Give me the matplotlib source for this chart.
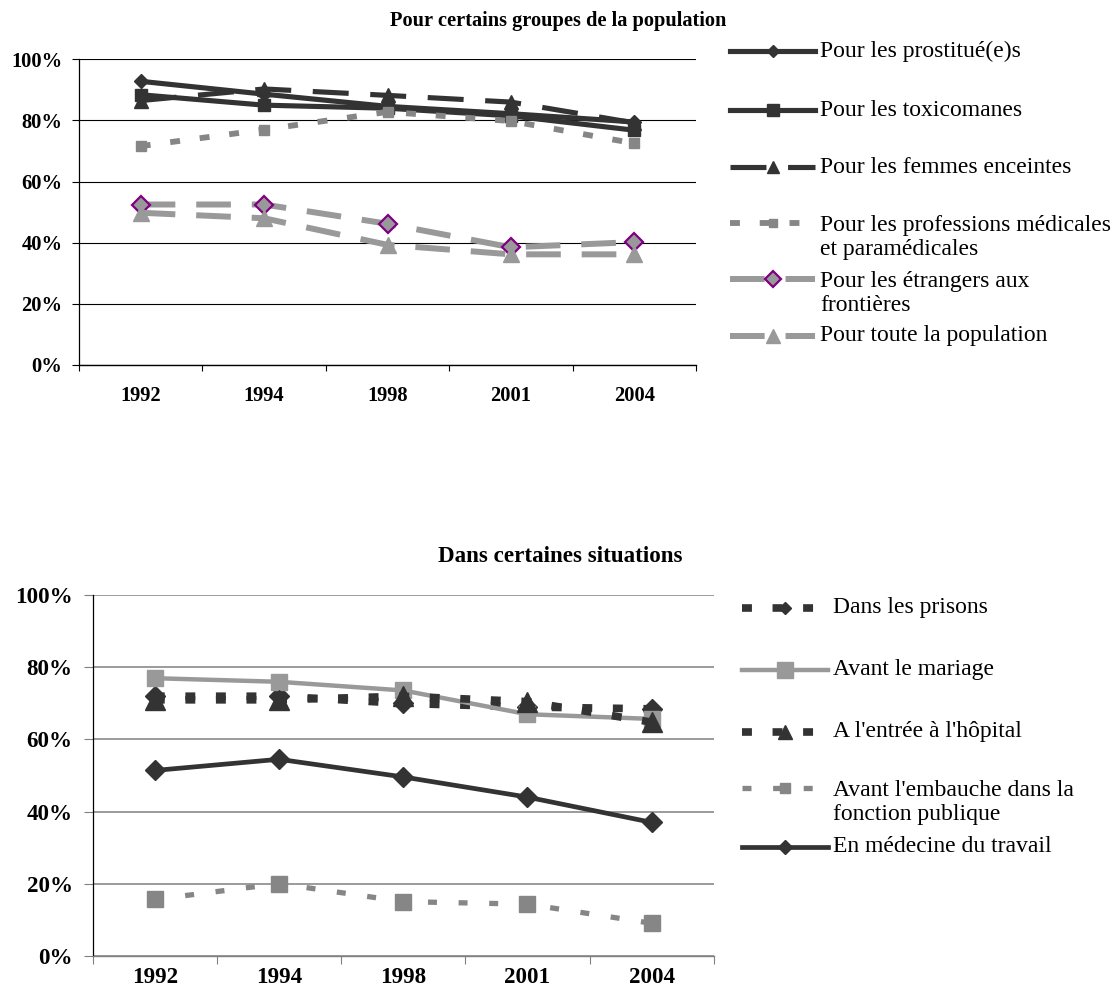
import matplotlib
matplotlib.use('Agg')
import matplotlib.pyplot as plt

plt.rcParams['font.family'] = ['Liberation Serif', 'DejaVu Serif']

annees = ['1992', '1994', '1998', '2001', '2004']

# Pour certains groupes de la population (%)
prostitues = [92.8, 88.6, 84.6, 82.2, 79.5]
toxicomanes = [88.4, 85.0, 84.0, 81.5, 76.8]
femmes_enceintes = [86.5, 90.3, 88.2, 86.0, 79.2]
professions_medicales = [71.6, 77.0, 82.8, 79.8, 72.5]
etrangers_frontieres = [52.5, 52.5, 46.2, 38.5, 40.2]
toute_population = [49.8, 48.0, 39.3, 36.2, 36.2]

# Dans certaines situations (%)
prisons = [72.0, 72.0, 70.0, 69.0, 68.5]
avant_mariage = [77.0, 76.0, 73.6, 67.0, 65.7]
entree_hopital = [71.0, 71.0, 72.0, 70.5, 64.8]
embauche_publique = [15.6, 20.0, 15.0, 14.3, 9.0]
medecine_travail = [51.4, 54.5, 49.6, 44.0, 37.0]

series_haut = [prostitues, toxicomanes, femmes_enceintes,
               professions_medicales, etrangers_frontieres, toute_population]
noms_haut = ['Pour les prostitué(e)s', 'Pour les toxicomanes',
             'Pour les femmes enceintes',
             'Pour les professions médicales\net paramédicales',
             'Pour les étrangers aux\nfrontières', 'Pour toute la population']
series_bas = [prisons, avant_mariage, entree_hopital, embauche_publique,
              medecine_travail]
noms_bas = ['Dans les prisons', 'Avant le mariage', "A l'entrée à l'hôpital",
            "Avant l'embauche dans la\nfonction publique",
            'En médecine du travail']

FONCE = '#333333'
GRIS = '#999999'
MOYEN = '#868686'
VIOLET = '#800080'

styles_haut = [
    dict(color=FONCE, lw=3.7, ls='-', marker='D', ms=7, mec=FONCE, mew=1),
    dict(color=FONCE, lw=3.7, ls='-', marker='s', ms=8, mec=FONCE, mew=1),
    dict(color=FONCE, lw=3.7, dashes=(7.0, 4.2), marker='^', ms=9.5, mec=FONCE, mew=1),
    dict(color=MOYEN, lw=4.2, dashes=(1.7, 3.4), marker='s', ms=7, mec=MOYEN, mew=1),
    dict(color=GRIS, lw=4.3, dashes=(5.8, 3.5), marker='D', ms=9.5, mfc=GRIS,
         mec=VIOLET, mew=1.6),
    dict(color=GRIS, lw=4.3, dashes=(5.8, 3.5), marker='^', ms=12, mec=GRIS, mew=1),
]
styles_bas = [
    dict(color=FONCE, lw=5.5, dashes=(1.3, 2.7), marker='D', ms=10, mec=FONCE, mew=1),
    dict(color=GRIS, lw=3.2, ls='-', marker='s', ms=12, mec=GRIS, mew=1),
    dict(color=FONCE, lw=5.5, dashes=(1.3, 2.7), marker='^', ms=15, mec=FONCE, mew=1),
    dict(color=MOYEN, lw=3.8, dashes=(1.7, 4.1), marker='s', ms=11, mec=MOYEN, mew=1),
    dict(color=FONCE, lw=3.4, ls='-', marker='D', ms=10, mec=FONCE, mew=1),
]
# marker sizes used in the legend keys
ms_cles_haut = [6.5, 8, 9, 6, 8, 10]
ms_cles_bas = [6.5, 12, 9.5, 7, 7]

W, H = 1117, 1002
fig = plt.figure(figsize=(W / 100, H / 100), dpi=100)

ax_haut = fig.add_axes([79 / W, 1 - 365 / H, 617 / W, 305.7 / H])
ax_bas = fig.add_axes([92.7 / W, 1 - 955.7 / H, 621 / W, 360.4 / H])


def habiller(ax, fs, grille, grille_lw, couleur_x, tick_y, tick_x, pad_y, pad_x):
    ax.set_xlim(-0.5, 4.5)
    ax.set_ylim(0, 100)
    ax.set_yticks(range(0, 101, 20))
    ax.set_yticklabels([f'{v}%' for v in range(0, 101, 20)],
                       fontsize=fs, fontweight='bold')
    ax.set_xticks([i - 0.5 for i in range(6)])
    ax.set_xticklabels([])
    ax.set_xticks(range(5), minor=True)
    ax.set_xticklabels(annees, minor=True, fontsize=fs, fontweight='bold')
    ax.tick_params(axis='x', which='minor', length=0, pad=pad_x)
    ax.tick_params(axis='x', which='major', length=tick_x, color=couleur_x, width=0.8)
    ax.tick_params(axis='y', length=tick_y, pad=pad_y, width=0.8, color=grille)
    ax.grid(axis='y', color=grille, lw=grille_lw)
    ax.set_axisbelow(True)
    for s in ('top', 'right'):
        ax.spines[s].set_visible(False)
    ax.spines['left'].set_color('black')
    ax.spines['left'].set_linewidth(0.9)
    ax.spines['bottom'].set_color(couleur_x)
    ax.spines['bottom'].set_linewidth(1.0)


x = range(len(annees))
for valeurs, style in zip(series_haut, styles_haut):
    ax_haut.plot(x, valeurs, **style)
for valeurs, style in zip(series_bas, styles_bas):
    ax_bas.plot(x, valeurs, **style)

habiller(ax_haut, 14.8, 'black', 0.8, 'black', 5, 4.3, 7, 15)
habiller(ax_bas, 16.6, '#808080', 1.1, '#808080', 6.5, 6, 8, 8)

# legends and titles, in pixel coordinates of the whole figure
ax_leg = fig.add_axes([0, 0, 1, 1])
ax_leg.set_xlim(0, W)
ax_leg.set_ylim(H, 0)
ax_leg.axis('off')
ax_leg.patch.set_alpha(0)


def legende(ax, styles, noms, tailles, y_cles, x0, x1, fs):
    for style, nom, ms, y in zip(styles, noms, tailles, y_cles):
        cle = dict(style, ms=ms)
        ax.plot([x0, (x0 + x1) / 2, x1], [y, y, y], markevery=[1], **cle)
        nb = nom.count('\n')
        ax.text(x1 + 5, y + nb * 14.2, nom, fontsize=fs, va='center', ha='left',
                linespacing=1.2)


legende(ax_leg, styles_haut, noms_haut, ms_cles_haut,
        [51, 110, 167, 223, 279, 336], 730, 815, 17)
legende(ax_leg, styles_bas, noms_bas, ms_cles_bas,
        [608, 670, 732, 788, 847], 742, 828, 17)

ax_leg.text(558, 21, 'Pour certains groupes de la population', fontsize=14.7,
            fontweight='bold', ha='center', va='center')
ax_leg.text(560, 557, 'Dans certaines situations', fontsize=16.6,
            fontweight='bold', ha='center', va='center')

fig.savefig('out.png', dpi=100)
